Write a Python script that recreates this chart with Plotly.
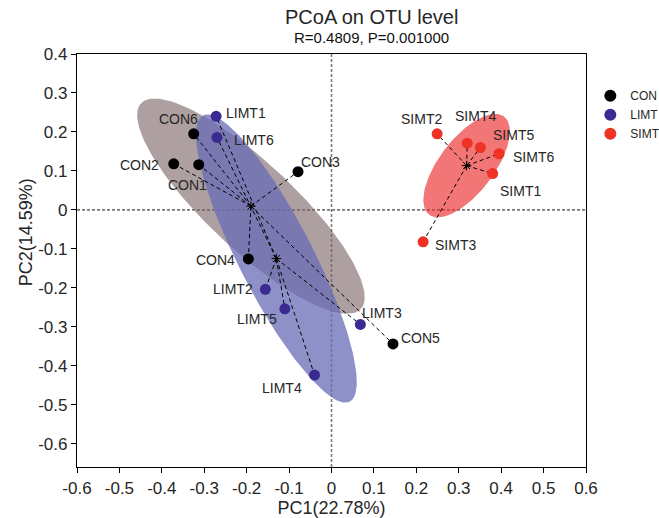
import numpy as np
import plotly.graph_objects as go

# ---------------- data ----------------
groups = ["CON", "LIMT", "SIMT"]

con_names = ["CON1", "CON2", "CON3", "CON4", "CON5", "CON6"]
con_x = [-0.313, -0.372, -0.079, -0.196, 0.145, -0.325]
con_y = [0.116, 0.118, 0.098, -0.126, -0.344, 0.195]

limt_names = ["LIMT1", "LIMT2", "LIMT3", "LIMT4", "LIMT5", "LIMT6"]
limt_x = [-0.272, -0.156, 0.068, -0.040, -0.110, -0.270]
limt_y = [0.240, -0.204, -0.294, -0.424, -0.254, 0.186]

simt_names = ["SIMT1", "SIMT2", "SIMT3", "SIMT4", "SIMT5", "SIMT6"]
simt_x = [0.380, 0.249, 0.216, 0.320, 0.351, 0.395]
simt_y = [0.093, 0.195, -0.082, 0.171, 0.160, 0.144]

# ellipse shape per group (semi-axes in data units, major-axis angle in degrees)
ellipse_semi_major = [0.370, 0.406, 0.154]
ellipse_semi_minor = [0.107, 0.089, 0.066]
ellipse_angle_deg = [-46.0, -65.0, 56.0]

x_tick_vals = [-0.6, -0.5, -0.4, -0.3, -0.2, -0.1, 0.0, 0.1, 0.2, 0.3, 0.4, 0.5, 0.6]
x_tick_text = ["-0.6", "-0.5", "-0.4", "-0.3", "-0.2", "-0.1", "0", "0.1", "0.2", "0.3", "0.4", "0.5", "0.6"]
y_tick_vals = [0.4, 0.3, 0.2, 0.1, 0.0, -0.1, -0.2, -0.3, -0.4, -0.5, -0.6]
y_tick_text = ["0.4", "0.3", "0.2", "0.1", "0", "-0.1", "-0.2", "-0.3", "-0.4", "-0.5", "-0.6"]

title_text = "PCoA on OTU level"
subtitle_text = "R=0.4809, P=0.001000"
x_title = "PC1(22.78%)"
y_title = "PC2(14.59%)"

# ---------------- styling ----------------
point_colors = ["#000000", "#3B2A91", "#EE3224"]
fill_colors = ["rgba(120,97,97,0.6)", "rgba(104,107,182,0.75)", "rgba(235,45,45,0.65)"]
FONT = "Liberation Sans, Arial, Helvetica, sans-serif"
TXT = "#262626"

# label offsets in pixels (right, up)
label_offsets = {
    "CON1": (-11, -20), "CON2": (-34, -1), "CON3": (23, 10), "CON4": (-33, -1),
    "CON5": (27, 6), "CON6": (-15, 15),
    "LIMT1": (30, 3), "LIMT2": (-32, 0), "LIMT3": (22, 11), "LIMT4": (-33, -13),
    "LIMT5": (-28, -10), "LIMT6": (37, -3),
    "SIMT1": (28, -17), "SIMT2": (-16, 15), "SIMT3": (32, -3), "SIMT4": (8, 27),
    "SIMT5": (33, 13), "SIMT6": (34, -3),
}

data = [
    (con_names, con_x, con_y),
    (limt_names, limt_x, limt_y),
    (simt_names, simt_x, simt_y),
]

fig = go.Figure()

centroids = []
for gi, (names, xs, ys) in enumerate(data):
    cx, cy = float(np.mean(xs)), float(np.mean(ys))
    centroids.append((cx, cy))
    t = np.linspace(0, 2 * np.pi, 200)
    a, b = ellipse_semi_major[gi], ellipse_semi_minor[gi]
    th = np.deg2rad(ellipse_angle_deg[gi])
    ex = cx + a * np.cos(t) * np.cos(th) - b * np.sin(t) * np.sin(th)
    ey = cy + a * np.cos(t) * np.sin(th) + b * np.sin(t) * np.cos(th)
    fig.add_trace(go.Scatter(x=ex, y=ey, mode="lines", fill="toself",
                             fillcolor=fill_colors[gi], line=dict(width=0),
                             hoverinfo="skip", showlegend=False))

# spokes from centroid to samples
for gi, (names, xs, ys) in enumerate(data):
    cx, cy = centroids[gi]
    sx, sy = [], []
    for x, y in zip(xs, ys):
        sx += [cx, x, None]
        sy += [cy, y, None]
    fig.add_trace(go.Scatter(x=sx, y=sy, mode="lines",
                             line=dict(color="black", width=1, dash="4px,3px"),
                             hoverinfo="skip", showlegend=False))

# centroid markers
fig.add_trace(go.Scatter(x=[c[0] for c in centroids], y=[c[1] for c in centroids],
                         mode="markers",
                         marker=dict(symbol="asterisk", size=8,
                                     line=dict(color="black", width=1)),
                         hoverinfo="skip", showlegend=False))

# sample points
for gi, (names, xs, ys) in enumerate(data):
    fig.add_trace(go.Scatter(x=xs, y=ys, mode="markers", name=groups[gi],
                             marker=dict(size=11, color=point_colors[gi]),
                             text=names, showlegend=True))

annotations = []
for names, xs, ys in data:
    for n, x, y in zip(names, xs, ys):
        dx, dy = label_offsets[n]
        annotations.append(dict(x=x, y=y, xref="x", yref="y", text=n, showarrow=False,
                                xshift=dx, yshift=dy,
                                font=dict(family=FONT, size=14, color=TXT)))

annotations += [
    dict(x=0.578, y=1.0905, xref="paper", yref="paper", text=title_text, showarrow=False,
         xanchor="center", yanchor="middle", font=dict(family=FONT, size=20, color=TXT)),
    dict(x=0.578, y=1.0395, xref="paper", yref="paper", text=subtitle_text, showarrow=False,
         xanchor="center", yanchor="middle", font=dict(family=FONT, size=15, color="#111111")),
    dict(x=-0.0996, y=0.569, xref="paper", yref="paper", text=y_title, showarrow=False,
         textangle=-90, xanchor="center", yanchor="middle",
         font=dict(family=FONT, size=18, color=TXT)),
]

fig.update_layout(
    width=659, height=518,
    margin=dict(l=77, r=73, t=54, b=51, autoexpand=False),
    paper_bgcolor="white", plot_bgcolor="white",
    font=dict(family=FONT, color=TXT),
    annotations=annotations,
    shapes=[
        dict(type="line", xref="x", yref="paper", x0=0, x1=0, y0=0, y1=1,
             line=dict(color="#7a7a7a", width=1.6, dash="3px,2px"), layer="below"),
        dict(type="line", xref="paper", yref="y", x0=0, x1=1, y0=0, y1=0,
             line=dict(color="#7a7a7a", width=1.6, dash="3px,2px"), layer="below"),
    ],
    xaxis=dict(range=[-0.6, 0.6], tickvals=x_tick_vals, ticktext=x_tick_text,
               showgrid=False, zeroline=False, showline=True, mirror=True,
               linecolor="black", linewidth=1.3, ticks="outside", ticklen=5,
               tickwidth=1.3, tickcolor="black", automargin=False,
               tickfont=dict(family=FONT, size=17, color=TXT),
               title=dict(text=x_title, font=dict(family=FONT, size=18, color=TXT), standoff=6)),
    yaxis=dict(range=[-0.66, 0.4], tickvals=y_tick_vals, ticktext=y_tick_text,
               showgrid=False, zeroline=False, showline=True, mirror=True,
               linecolor="black", linewidth=1.3, ticks="outside", ticklen=5,
               tickwidth=1.3, tickcolor="black", automargin=False,
               tickfont=dict(family=FONT, size=17, color=TXT)),
    legend=dict(x=1.0085, y=0.934, xref="paper", yref="paper",
                xanchor="left", yanchor="top",
                bgcolor="rgba(0,0,0,0)", borderwidth=0, itemsizing="constant",
                font=dict(family=FONT, size=12, color=TXT), tracegroupgap=0),
)

fig.write_html("out.html")
